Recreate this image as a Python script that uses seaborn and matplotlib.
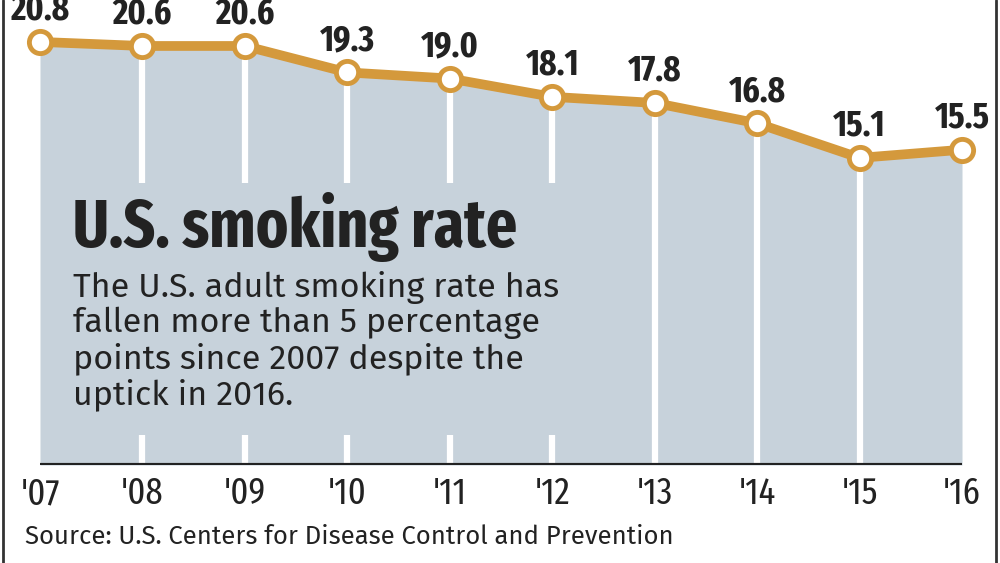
import matplotlib
matplotlib.use("Agg")
import matplotlib.pyplot as plt
from matplotlib.lines import Line2D
from matplotlib.patches import Rectangle
import pandas as pd
import seaborn as sns

years = [2007, 2008, 2009, 2010, 2011, 2012, 2013, 2014, 2015, 2016]
rates = [20.8, 20.6, 20.6, 19.3, 19.0, 18.1, 17.8, 16.8, 15.1, 15.5]
tick_labels = ["'07", "'08", "'09", "'10", "'11", "'12", "'13", "'14", "'15", "'16"]

title = "U.S. smoking rate"
subtitle = ("The U.S. adult smoking rate has\nfallen more than 5 percentage\n"
            "points since 2007 despite the\nuptick in 2016.")
source = "Source: U.S. Centers for Disease Control and Prevention"

fill_color = "#c7d2db"
line_color = "#d4993c"
ink = "#222222"

headline_font = ["Fira Sans Extra Condensed", "DejaVu Sans"]
body_font = ["Fira Sans", "DejaVu Sans"]

sns.set_theme(style="white")
plt.rcParams['font.family'] = headline_font

df = pd.DataFrame({"year": years, "rate": rates})

fig = plt.figure(figsize=(10, 5.63), dpi=100)
ax = fig.add_axes([0.04, 0.174, 0.922, 0.826])

ax.fill_between(df["year"], 0, df["rate"], color=fill_color, lw=0, zorder=1)
ax.vlines(df["year"][1:-1], 0, df["rate"][1:-1], color="white", lw=4.5, zorder=2)

# text panel covering the white dividers behind the headline
ax.add_patch(Rectangle((0.022, 0.065), 0.585, 0.541, transform=ax.transAxes,
                       facecolor=fill_color, edgecolor="none", zorder=3))

sns.lineplot(data=df, x="year", y="rate", ax=ax, color=line_color, lw=7,
             marker="o", markersize=16, markerfacecolor="white",
             markeredgecolor=line_color, markeredgewidth=3.5,
             zorder=5, clip_on=False)

for x, y in zip(years, rates):
    ax.annotate(f"{y:.1f}", (x, y), xytext=(0, 16), textcoords="offset points",
                ha="center", va="baseline", fontsize=26, fontweight="bold",
                color=ink, annotation_clip=False)

ax.axhline(0, color=ink, lw=3, zorder=6)

ax.set_xlim(2007, 2016)
ax.set_ylim(0, 22.86)
ax.set_xticks(years)
ax.set_xticklabels(tick_labels, fontsize=27, color=ink)
ax.tick_params(axis="x", length=0, pad=8)
ax.set_yticks([])
ax.set_xlabel("")
ax.set_ylabel("")
for s in ax.spines.values():
    s.set_visible(False)

ax.text(0.036, 0.588, title, transform=ax.transAxes, fontsize=48,
        fontweight="bold", color=ink, va="top", ha="left", zorder=7)
ax.text(0.036, 0.418, subtitle, transform=ax.transAxes, fontsize=24.5,
        family=body_font, color=ink, va="top", ha="left",
        linespacing=1.13, zorder=7)

fig.text(0.025, 0.046, source, fontsize=18.5, family=body_font,
         color=ink, va="center", ha="left")

fig.add_artist(Line2D([0.003, 0.003], [0, 1], transform=fig.transFigure, color="#333333", lw=2))
fig.add_artist(Line2D([0.996, 0.996], [0, 1], transform=fig.transFigure, color="#333333", lw=2))

fig.savefig("out.png", dpi=100, facecolor="white")
